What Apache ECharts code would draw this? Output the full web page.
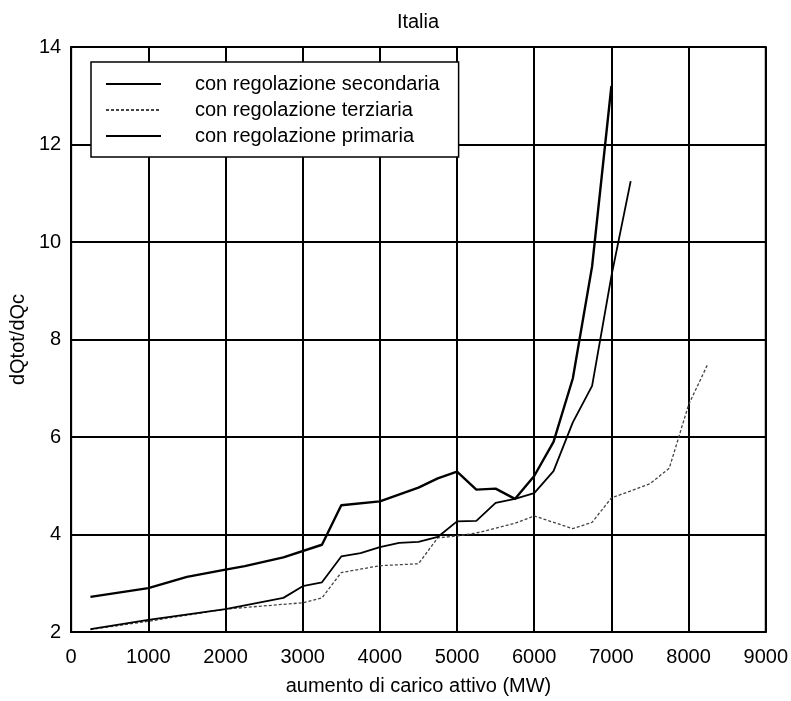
<!DOCTYPE html>
<html>
<head>
<meta charset="utf-8">
<script src="https://cdn.jsdelivr.net/npm/echarts@6/dist/echarts.min.js"></script>
<style>html,body{margin:0;padding:0;background:#fff}#c{width:791px;height:701px}</style>
</head>
<body>
<div id="c"></div>
<script>
// ---- data ----
const titleText = "Italia";
const xName = "aumento di carico attivo (MW)";
const yName = "dQtot/dQc";
const seriesNames = ["con regolazione secondaria", "con regolazione terziaria", "con regolazione primaria"];

const secX = [250, 1000, 1500, 2000, 2250, 2750, 3250, 3500, 4000, 4500, 4750, 5000, 5250, 5500, 5750, 6000, 6250, 6500, 6750, 7000];
const secY = [2.72, 2.9, 3.13, 3.28, 3.35, 3.53, 3.79, 4.6, 4.68, 4.96, 5.15, 5.29, 4.92, 4.94, 4.73, 5.2, 5.9, 7.2, 9.5, 13.2];

const terX = [250, 1000, 2000, 3000, 3250, 3500, 4000, 4500, 4750, 5000, 5250, 5750, 6000, 6500, 6750, 7000, 7500, 7750, 8000, 8250];
const terY = [2.05, 2.22, 2.47, 2.6, 2.7, 3.22, 3.36, 3.4, 3.93, 3.97, 4.03, 4.23, 4.38, 4.12, 4.25, 4.75, 5.04, 5.36, 6.66, 7.5];

const priX = [250, 1000, 2000, 2750, 3000, 3250, 3500, 3750, 4000, 4250, 4500, 4750, 5000, 5250, 5500, 5750, 6000, 6250, 6500, 6750, 7000, 7250];
const priY = [2.06, 2.25, 2.47, 2.7, 2.94, 3.02, 3.55, 3.62, 3.74, 3.83, 3.85, 3.95, 4.27, 4.28, 4.65, 4.73, 4.85, 5.3, 6.3, 7.05, 9.3, 11.25];

const xMin = 0, xMax = 9000, xStep = 1000;
const yMin = 2, yMax = 14, yStep = 2;

const zip = (xs, ys) => xs.map((x, i) => [x, ys[i]]);
const FONT = "'Liberation Sans', Arial, Helvetica, sans-serif";

const chart = echarts.init(document.getElementById('c'), null, {renderer: 'canvas'});
chart.setOption({
  animation: false,
  backgroundColor: '#fff',
  title: {
    text: titleText, left: 418, top: 12, textAlign: 'center', padding: 0,
    textStyle: {fontFamily: FONT, fontSize: 20, fontWeight: 'normal', color: '#000'}
  },
  grid: {left: 71, right: 25, top: 47, bottom: 63, show: true, borderColor: '#000', borderWidth: 2, backgroundColor: 'transparent'},
  legend: {
    orient: 'vertical', left: 91, top: 62,
    padding: [12, 19, 11, 14],
    itemWidth: 55, itemHeight: 14, itemGap: 6,
    backgroundColor: '#fff', borderColor: '#000', borderWidth: 1.5,
    itemStyle: {opacity: 0},
    textStyle: {fontFamily: FONT, fontSize: 20, color: '#000', padding: [0, 0, 0, 29], lineHeight: 20},
    data: seriesNames
  },
  xAxis: {
    type: 'value', min: xMin, max: xMax, interval: xStep,
    name: xName, nameLocation: 'middle', nameGap: 44,
    nameTextStyle: {fontFamily: FONT, fontSize: 20, color: '#000'},
    axisLine: {show: true, lineStyle: {color: '#000', width: 2}},
    axisTick: {show: false},
    axisLabel: {fontFamily: FONT, fontSize: 20, color: '#000', margin: 15, formatter: v => String(v)},
    splitLine: {show: true, lineStyle: {color: '#000', width: 2}}
  },
  yAxis: {
    type: 'value', min: yMin, max: yMax, interval: yStep,
    name: yName, nameLocation: 'middle', nameGap: 30,
    nameTextStyle: {fontFamily: FONT, fontSize: 20, color: '#000'},
    axisLine: {show: true, lineStyle: {color: '#000', width: 2}},
    axisTick: {show: false},
    axisLabel: {fontFamily: FONT, fontSize: 20, color: '#000', margin: 10},
    splitLine: {show: true, lineStyle: {color: '#000', width: 2}}
  },
  series: [
    {name: seriesNames[0], type: 'line', data: zip(secX, secY), showSymbol: false, symbol: 'none',
     lineStyle: {color: '#000', width: 2.4}, itemStyle: {color: '#000'}},
    {name: seriesNames[1], type: 'line', data: zip(terX, terY), showSymbol: false, symbol: 'none',
     lineStyle: {color: '#444', width: 1.3, type: [3, 2]}, itemStyle: {color: '#444'}},
    {name: seriesNames[2], type: 'line', data: zip(priX, priY), showSymbol: false, symbol: 'none',
     lineStyle: {color: '#000', width: 1.8}, itemStyle: {color: '#000'}}
  ]
});
</script>
</body>
</html>
